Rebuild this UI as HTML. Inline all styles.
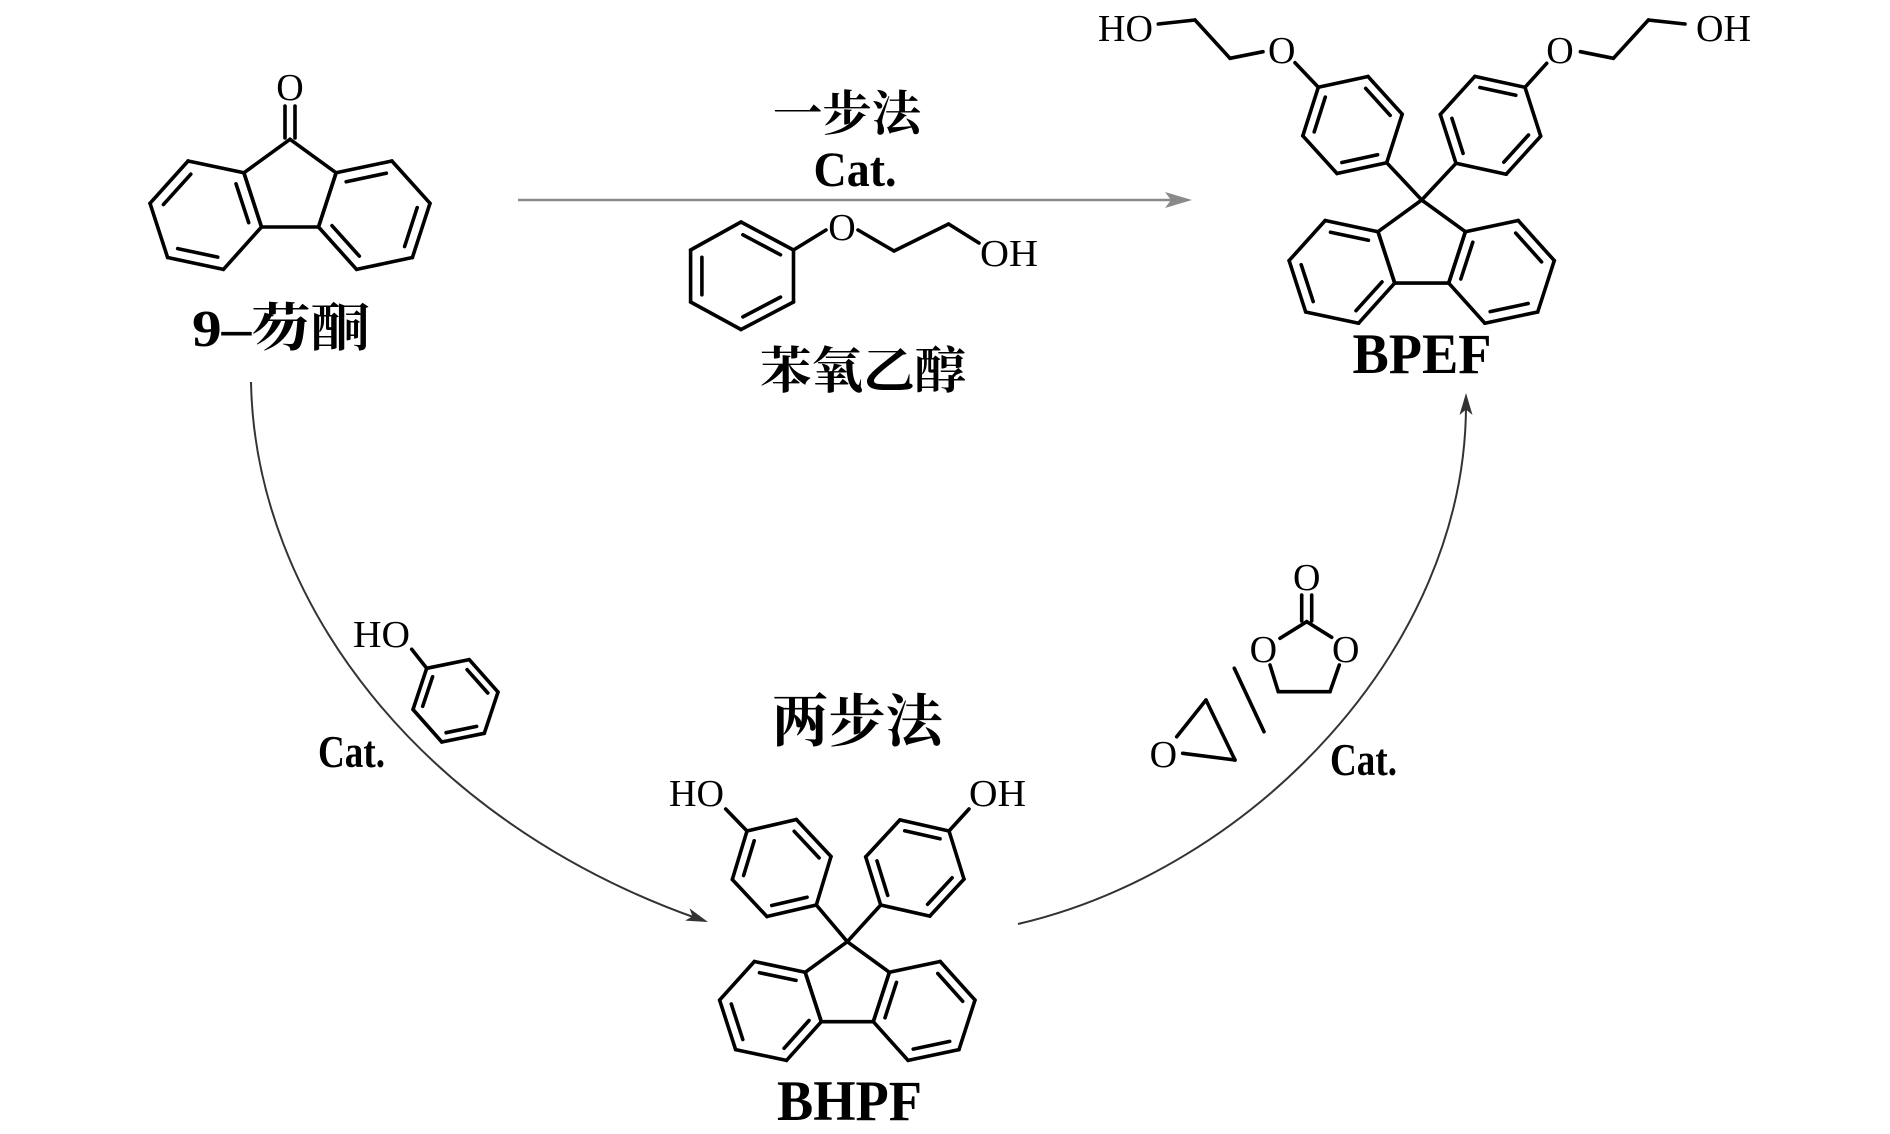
<!DOCTYPE html>
<html><head><meta charset="utf-8">
<style>
html,body{margin:0;padding:0;background:#fff;}
svg{display:block;}
.a{font-family:"Liberation Serif",serif;fill:#000;}
.z{font-family:"Liberation Serif","Noto Serif CJK SC",serif;font-weight:bold;fill:#000;}
</style></head>
<body>
<svg id="s" xmlns="http://www.w3.org/2000/svg" width="1890" height="1134" viewBox="0 0 1890 1134">
<rect width="1890" height="1134" fill="#fff"/>
<g id="mol" stroke="#000" stroke-width="3.6" stroke-linecap="round" stroke-linejoin="round" fill="none"></g>
<!-- arrows -->
<line x1="518" y1="200" x2="1172" y2="200" stroke="#8a8a8a" stroke-width="2.5"/>
<polygon points="1192,200 1165,192 1171,200 1165,208" fill="#8a8a8a"/>
<path d="M251,382 C255,600 420,820 696,918" stroke="#333" stroke-width="2" fill="none"/>
<path d="M1018,924 C1250,870 1466,650 1466,405" stroke="#333" stroke-width="2" fill="none"/>
<g id="heads" fill="#333"></g>

<!-- labels -->
<text class="a" x="290" y="100" font-size="38" text-anchor="middle">O</text>
<text class="z" x="281" y="346" font-size="52" text-anchor="middle" textLength="178" lengthAdjust="spacingAndGlyphs">9–芴酮</text>
<text class="z" x="847" y="130" font-size="48" text-anchor="middle" textLength="148" lengthAdjust="spacingAndGlyphs">一步法</text>
<text class="a" x="855" y="186" font-size="50" font-weight="bold" text-anchor="middle" textLength="83" lengthAdjust="spacingAndGlyphs">Cat.</text>
<text class="a" x="842" y="240" font-size="38" text-anchor="middle">O</text>
<text class="a" x="980" y="266" font-size="38" textLength="58" lengthAdjust="spacingAndGlyphs">OH</text>
<text class="z" x="863" y="388" font-size="50" text-anchor="middle" textLength="206" lengthAdjust="spacingAndGlyphs">苯氧乙醇</text>

<text class="a" x="1098" y="41" font-size="38" textLength="55" lengthAdjust="spacingAndGlyphs">HO</text>
<text class="a" x="1281.7" y="63" font-size="38" text-anchor="middle">O</text>
<text class="a" x="1560" y="63" font-size="38" text-anchor="middle">O</text>
<text class="a" x="1696" y="41" font-size="38" textLength="55" lengthAdjust="spacingAndGlyphs">OH</text>
<text class="a" x="1422" y="373" font-size="57" font-weight="bold" text-anchor="middle" textLength="139" lengthAdjust="spacingAndGlyphs">BPEF</text>

<text class="a" x="353" y="647" font-size="38" textLength="57" lengthAdjust="spacingAndGlyphs">HO</text>
<text class="a" x="318" y="767" font-size="45" font-weight="bold" textLength="67" lengthAdjust="spacingAndGlyphs">Cat.</text>
<text class="z" x="857" y="741" font-size="57" text-anchor="middle">两步法</text>
<text class="a" x="669" y="806" font-size="38" textLength="55" lengthAdjust="spacingAndGlyphs">HO</text>
<text class="a" x="969" y="806" font-size="38" textLength="57" lengthAdjust="spacingAndGlyphs">OH</text>
<text class="a" x="849.5" y="1120" font-size="57" font-weight="bold" text-anchor="middle" textLength="145" lengthAdjust="spacingAndGlyphs">BHPF</text>

<text class="a" x="1306.7" y="590" font-size="38" text-anchor="middle">O</text>
<text class="a" x="1263.3" y="662" font-size="38" text-anchor="middle">O</text>
<text class="a" x="1345.7" y="662" font-size="38" text-anchor="middle">O</text>
<text class="a" x="1163.3" y="767" font-size="38" text-anchor="middle">O</text>
<text class="a" x="1330" y="775" font-size="45" font-weight="bold" textLength="67" lengthAdjust="spacingAndGlyphs">Cat.</text>
</svg>
<script>
(function(){
var g=document.getElementById('mol'),out='';
function ln(a,b){out+='<line x1="'+a.x.toFixed(1)+'" y1="'+a.y.toFixed(1)+'" x2="'+b.x.toFixed(1)+'" y2="'+b.y.toFixed(1)+'"/>';}
function P(x,y){return {x:x,y:y};}
function rot(v,d){var r=d*Math.PI/180,c=Math.cos(r),s=Math.sin(r);return P(v.x*c-v.y*s,v.x*s+v.y*c);}
function ring(H,V,dbl){
  for(var i=0;i<6;i++)ln(V[i],V[(i+1)%6]);
  dbl.forEach(function(i){
    var a=V[i],b=V[(i+1)%6],k=0.78;
    var a2=P(H.x+(a.x-H.x)*k,H.y+(a.y-H.y)*k),b2=P(H.x+(b.x-H.x)*k,H.y+(b.y-H.y)*k);
    var m=P((a2.x+b2.x)/2,(a2.y+b2.y)/2),f=0.92;
    ln(P(m.x+(a2.x-m.x)*f,m.y+(a2.y-m.y)*f),P(m.x+(b2.x-m.x)*f,m.y+(b2.y-m.y)*f));
  });
}
function hexC(H,v0,step){var V=[];for(var k=0;k<6;k++){var r=rot(P(v0.x-H.x,v0.y-H.y),k*step);V.push(P(H.x+r.x,H.y+r.y));}return V;}
function fused(A,B,c,L,shared){
  var M=P((A.x+B.x)/2,(A.y+B.y)/2),n=P(M.x-c.x,M.y-c.y),d=Math.hypot(n.x,n.y);
  var H=P(M.x+n.x/d*0.866*L,M.y+n.y/d*0.866*L);
  var V=hexC(H,A,60);
  if(Math.hypot(V[1].x-B.x,V[1].y-B.y)>1)V=hexC(H,A,-60);
  ring(H,V,shared?[0,2,4]:[1,3,5]);
}
function fluorene(C9,L,ls,rs){
  var R=L/1.17557,c=P(C9.x,C9.y+R);
  function pv(a){var r=a*Math.PI/180;return P(c.x+R*Math.cos(r),c.y+R*Math.sin(r));}
  var v=[pv(-90),pv(-18),pv(54),pv(126),pv(198)];
  for(var i=0;i<5;i++)ln(v[i],v[(i+1)%5]);
  fused(v[4],v[3],c,L,ls);
  fused(v[1],v[2],c,L,rs);
}
function phenyl(I,Pp,dbl){
  var H=P((I.x+Pp.x)/2,(I.y+Pp.y)/2);ring(H,hexC(H,I,60),dbl);
}
function pl(pts){for(var i=0;i<pts.length-1;i++)ln(P(pts[i][0],pts[i][1]),P(pts[i+1][0],pts[i+1][1]));}

fluorene(P(290,139.3),57,true,false);
ln(P(285,106),P(285,138));ln(P(295,106),P(295,138));

fluorene(P(1421.7,200),54,false,true);
phenyl(P(1386.7,162.7),P(1318.3,87.3),[0,2,4]);
phenyl(P(1456,163.3),P(1525,87.3),[0,2,4]);
pl([[1421.7,200],[1386.7,162.7]]);pl([[1421.7,200],[1456,163.3]]);
pl([[1318.3,87.3],[1295,62.7]]);pl([[1525,87.3],[1546.7,63.3]]);
pl([[1263,51.7],[1230,58.3],[1195,20],[1158.3,24]]);
pl([[1580.4,51.7],[1613.4,58.3],[1648.4,20],[1685,24]]);

fluorene(P(847.3,941.7),52,false,true);
phenyl(P(816.3,905),P(747,831),[0,2,4]);
phenyl(P(880.7,905),P(949,831),[0,2,4]);
pl([[847.3,941.7],[816.3,905]]);pl([[847.3,941.7],[880.7,905]]);
pl([[747,831],[725.7,809]]);pl([[949,831],[969,809]]);

(function(){
  var V=[P(793.5,250),P(741,222),P(690.6,250),P(690.6,302),P(741,329.5),P(793.5,302)];
  ring(P(742,276),V,[0,2,4]);
  pl([[793.5,250],[826,230]]);
  pl([[858,230],[894,251],[948.6,224],[979,243]]);
})();

phenyl(P(426.7,668.3),P(484.3,733.3),[1,3,5]);
pl([[411.7,649.3],[426.7,668.3]]);

ln(P(1301.7,595),P(1301.7,621));ln(P(1311.7,595),P(1311.7,621));
pl([[1280,638.3],[1306.7,621.7],[1331.7,637.3]]);
pl([[1270,665],[1278.3,691.7],[1330,691.7],[1339.3,665]]);
pl([[1234.3,668.3],[1264,731.7]]);
pl([[1176.7,736.7],[1206,700],[1235,760],[1182.7,753.3]]);

g.innerHTML=out;

function head(tip,dir,len,w){
  var d=Math.hypot(dir.x,dir.y),u=P(dir.x/d,dir.y/d),n=P(-u.y,u.x);
  var b=P(tip.x-u.x*len,tip.y-u.y*len),m=P(tip.x-u.x*len*0.75,tip.y-u.y*len*0.75);
  return '<polygon points="'+tip.x+','+tip.y+' '+(b.x+n.x*w)+','+(b.y+n.y*w)+' '+m.x+','+m.y+' '+(b.x-n.x*w)+','+(b.y-n.y*w)+'"/>';
}
document.getElementById('heads').innerHTML=
  head(P(708,922),P(0.94,0.34),22,6.5)+head(P(1466,393),P(0,-1),22,6.5);
})();
</script>
</body></html>
